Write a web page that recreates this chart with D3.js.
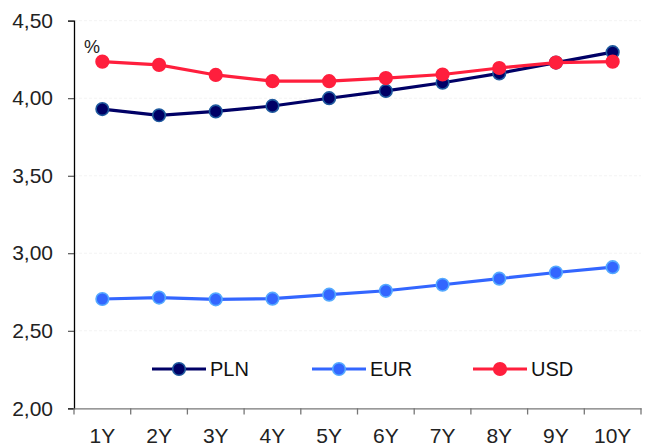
<!DOCTYPE html>
<html><head><meta charset="utf-8">
<script src="https://cdn.jsdelivr.net/npm/d3@7"></script>
<style>body{margin:0;background:#fff}svg{display:block}text{font-family:"Liberation Sans",Arial,sans-serif}</style>
</head><body><svg id="c" width="646" height="448"></svg>
<script>
const categories = ["1Y","2Y","3Y","4Y","5Y","6Y","7Y","8Y","9Y","10Y"];
const plnValues = [3.93,3.89,3.915,3.95,4.00,4.047,4.10,4.16,4.23,4.297];
const eurValues = [2.705,2.714,2.703,2.707,2.733,2.758,2.797,2.836,2.876,2.91];
const usdValues = [4.236,4.215,4.15,4.11,4.11,4.13,4.153,4.195,4.23,4.236];
const yTicks = [2.0,2.5,3.0,3.5,4.0,4.5];
const seriesNames = ["PLN","EUR","USD"];

const svg = d3.select("#c");
const x = d3.scaleBand().domain(categories).range([74,641]);
const y = d3.scaleLinear().domain([2,4.5]).range([408.3,20.7]);
const fmt = v => v.toFixed(2).replace(".",",");

// gridlines
svg.append("g").selectAll("line").data(yTicks.filter(d=>d>2)).join("line")
  .attr("x1",74).attr("x2",641).attr("y1",d=>y(d)).attr("y2",d=>y(d))
  .attr("stroke","#f3f3f3").attr("stroke-width",1).attr("stroke-dasharray","3,2");

// y axis
const ya = svg.append("g").attr("transform","translate(74,0)")
  .call(d3.axisLeft(y).tickValues(yTicks).tickFormat(fmt).tickSize(6).tickPadding(15));
ya.select(".domain").attr("stroke","#000").attr("stroke-width",1.3);
ya.selectAll(".tick line").attr("stroke","#333");
ya.selectAll("text").attr("font-size",21).attr("fill","#222").attr("font-family","Liberation Sans, Arial, sans-serif");

// x axis
const xa = svg.append("g").attr("transform","translate(0,408.3)")
  .call(d3.axisBottom(x).tickSize(0).tickPadding(20));
xa.select(".domain").attr("stroke","#777").attr("stroke-width",1.3);
xa.selectAll("text").attr("font-size",21).attr("fill","#222").attr("font-family","Liberation Sans, Arial, sans-serif");
svg.append("g").selectAll("line").data(categories.map((c,i)=>i).concat([categories.length])).join("line")
  .attr("x1",i=> i<categories.length ? x(categories[i]) : x.range()[1])
  .attr("x2",i=> i<categories.length ? x(categories[i]) : x.range()[1])
  .attr("y1",408.3).attr("y2",414.5).attr("stroke","#777").attr("stroke-width",1.3);

// % label
svg.append("text").attr("x",84).attr("y",53).attr("font-size",18).attr("fill","#222").text("%");

const series = [
  {name:"EUR", values:eurValues, line:"#3366ff", fill:"#3366ff", stroke:"#55aaff"},
  {name:"PLN", values:plnValues, line:"#000066", fill:"#000066", stroke:"#1f5a9e"},
  {name:"USD", values:usdValues, line:"#ff1f3d", fill:"#ff1f3d", stroke:"#ff1f3d"}
];
const line = d3.line().x((d,i)=>x(categories[i])+x.bandwidth()/2).y(d=>y(d));
series.forEach(s=>{
  const g = svg.append("g");
  g.append("path").datum(s.values).attr("d",line).attr("fill","none")
    .attr("stroke",s.line).attr("stroke-width",3.2);
  g.selectAll("circle").data(s.values).join("circle")
    .attr("cx",(d,i)=>x(categories[i])+x.bandwidth()/2).attr("cy",d=>y(d))
    .attr("r",6.3).attr("fill",s.fill).attr("stroke",s.stroke).attr("stroke-width",1.6);
});

// legend
const legendX = {PLN:152, EUR:312, USD:473};
seriesNames.forEach(n=>{
  const s = series.find(d=>d.name===n);
  const x0 = legendX[n], ly = 369;
  const g = svg.append("g");
  g.append("line").attr("x1",x0).attr("x2",x0+54).attr("y1",ly).attr("y2",ly)
    .attr("stroke",s.line).attr("stroke-width",3.2);
  g.append("circle").attr("cx",x0+27).attr("cy",ly).attr("r",6.3)
    .attr("fill",s.fill).attr("stroke",s.stroke).attr("stroke-width",1.6);
  g.append("text").attr("x",x0+58).attr("y",ly+7).attr("font-size",20).attr("fill","#111").text(n);
});
</script></body></html>
